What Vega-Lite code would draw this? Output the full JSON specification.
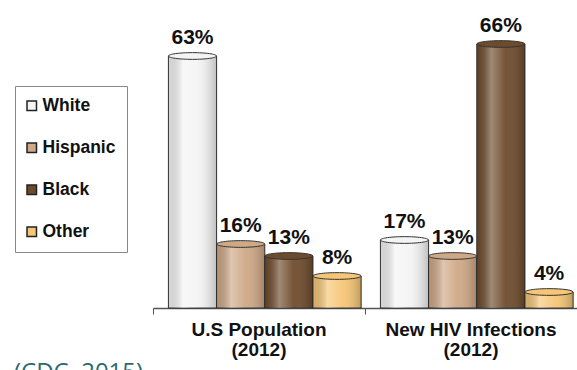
{
  "$schema": "https://vega.github.io/schema/vega-lite/v6.json",
  "autosize": "none",
  "width": 424,
  "height": 280,
  "padding": {"left": 153, "top": 28, "right": 0, "bottom": 62},
  "background": "white",
  "config": {"view": {"stroke": null}, "font": "Liberation Sans"},
  "title": {
    "text": "(CDC, 2015)",
    "orient": "bottom",
    "anchor": "start",
    "frame": "group",
    "dx": -139,
    "offset": 2,
    "baseline": "top",
    "font": "Open Sans",
    "fontSize": 24,
    "fontWeight": "normal",
    "color": "#2b6a73"
  },
  "data": {
    "values": [
      {"group": "U.S Population", "race": "White", "value": 63, "label": "63%"},
      {"group": "U.S Population", "race": "Hispanic", "value": 16, "label": "16%"},
      {"group": "U.S Population", "race": "Black", "value": 13, "label": "13%"},
      {"group": "U.S Population", "race": "Other", "value": 8, "label": "8%"},
      {"group": "New HIV Infections", "race": "White", "value": 17, "label": "17%"},
      {"group": "New HIV Infections", "race": "Hispanic", "value": 13, "label": "13%"},
      {"group": "New HIV Infections", "race": "Black", "value": 66, "label": "66%"},
      {"group": "New HIV Infections", "race": "Other", "value": 4, "label": "4%"}
    ]
  },
  "encoding": {
    "x": {
      "field": "group",
      "type": "nominal",
      "sort": ["U.S Population", "New HIV Infections"],
      "scale": {"paddingInner": 0, "paddingOuter": 0},
      "axis": {
        "title": null,
        "labelAngle": 0,
        "labelExpr": "[datum.label, '(2012)']",
        "labelFont": "Liberation Sans",
        "labelFontSize": 19,
        "labelFontWeight": "bold",
        "labelColor": "#111",
        "labelLineHeight": 20,
        "labelPadding": 6,
        "bandPosition": 0,
        "tickSize": 6,
        "tickColor": "#555",
        "domainColor": "#555",
        "domainWidth": 1.5
      }
    },
    "xOffset": {
      "field": "race",
      "type": "nominal",
      "sort": ["White", "Hispanic", "Black", "Other"],
      "scale": {"paddingInner": 0, "paddingOuter": 0.2, "align": 0.8}
    },
    "y": {
      "field": "value",
      "type": "quantitative",
      "scale": {"domain": [0, 70]},
      "axis": null
    }
  },
  "layer": [
    {
      "mark": {"type": "bar", "stroke": "#333", "strokeWidth": 1},
      "encoding": {
        "color": {
          "field": "race",
          "type": "nominal",
          "sort": ["White", "Hispanic", "Black", "Other"],
          "scale": {
            "domain": ["White", "Hispanic", "Black", "Other"],
            "range": ["#f4f4f4", "#cfa886", "#6e4b2c", "#f6c676"]
          },
          "legend": {
            "title": null,
            "orient": "none",
            "legendX": -138,
            "legendY": 58,
            "strokeColor": "#888",
            "fillColor": "white",
            "padding": 11,
            "rowPadding": 23,
            "symbolType": "square",
            "symbolSize": 90,
            "symbolOffset": -3,
            "symbolStrokeColor": "#222",
            "symbolStrokeWidth": 1.5,
            "symbolOpacity": 1,
            "labelFont": "Liberation Sans",
            "labelFontSize": 17.5,
            "labelFontWeight": "bold",
            "labelColor": "#111",
            "labelOffset": 2,
            "labelLimit": 200
          }
        }
      }
    },
    {
      "mark": {
        "type": "bar",
        "fill": {
          "gradient": "linear",
          "x1": 0, "y1": 0, "x2": 1, "y2": 0,
          "stops": [
            {"offset": 0, "color": "rgba(0,0,0,0.12)"},
            {"offset": 0.3, "color": "rgba(255,255,255,0.35)"},
            {"offset": 0.6, "color": "rgba(255,255,255,0.05)"},
            {"offset": 1, "color": "rgba(0,0,0,0.22)"}
          ]
        }
      }
    },
    {
      "mark": {
        "type": "point",
        "filled": true,
        "shape": "M -1 0 A 1 0.14 0 1 1 1 0 A 1 0.14 0 1 1 -1 0 Z",
        "size": 2304,
        "stroke": "#333",
        "strokeWidth": 1,
        "opacity": 1
      },
      "encoding": {
        "color": {"field": "race", "type": "nominal", "legend": null}
      }
    },
    {
      "mark": {
        "type": "text",
        "baseline": "bottom",
        "dy": -8,
        "font": "Liberation Sans",
        "fontSize": 21,
        "fontWeight": "bold",
        "color": "#111"
      },
      "encoding": {
        "text": {"field": "label", "type": "nominal"}
      }
    }
  ]
}
